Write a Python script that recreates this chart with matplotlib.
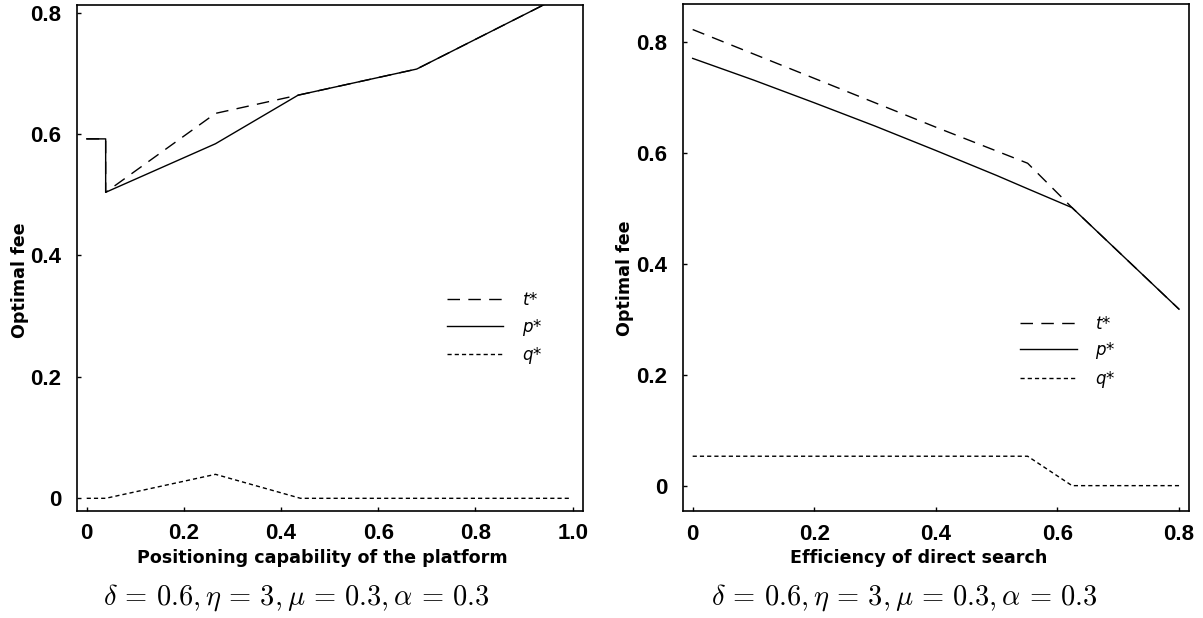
import matplotlib
matplotlib.use("Agg")
import matplotlib.pyplot as plt

# Datos
# Panel izquierdo: capacidad de posicionamiento de la plataforma
pos_x = [0.0, 0.039, 0.039, 0.265, 0.435, 0.679, 0.936, 0.995]
pos_p = [0.592, 0.592, 0.504, 0.584, 0.664, 0.707, 0.811, 0.835]
pos_t = [0.592, 0.592, 0.504, 0.634, 0.664, 0.707, 0.811, 0.835]
pos_q_x = [0.0, 0.039, 0.265, 0.44, 0.995]
pos_q = [0.0, 0.0, 0.0395, 0.0, 0.0]

# Panel derecho: eficiencia de la busqueda directa
ef_x = [0.0, 0.1, 0.2, 0.3, 0.4, 0.5, 0.551, 0.624, 0.8]
ef_p = [0.770, 0.731, 0.690, 0.648, 0.604, 0.559, 0.535, 0.501, 0.318]
ef_t = [0.822, 0.778, 0.734, 0.690, 0.646, 0.603, 0.581, 0.501, 0.318]
ef_q_x = [0.0, 0.551, 0.624, 0.8]
ef_q = [0.053, 0.053, 0.0, 0.0]

caption = r"$\delta \,=\, 0.6, \eta \,=\, 3, \mu \,=\, 0.3, \alpha \,=\, 0.3$"

tick_font = ["Liberation Sans Narrow", "Liberation Sans", "DejaVu Sans"]
label_font = ["DejaVu Sans"]

W, H = 1203, 618
fig = plt.figure(figsize=(W / 100, H / 100), dpi=100)

def caja(x0, y0, x1, y1):
    return [x0 / W, 1 - y1 / H, (x1 - x0) / W, (y1 - y0) / H]

ax1 = fig.add_axes(caja(76.7, 4.7, 582.7, 510.7))
ax2 = fig.add_axes(caja(682.7, 4.0, 1189.0, 511.0))

estilo_t = dict(color="black", lw=1.0, linestyle=(0, (9, 6)))
estilo_p = dict(color="black", lw=1.0, linestyle="-")
estilo_q = dict(color="black", lw=1.0, linestyle=(0, (3, 2.2)))

plt.rcParams["mathtext.fontset"] = "custom"
plt.rcParams["mathtext.it"] = "DejaVu Sans:italic"

def dibujar(ax, x, t, p, qx, q, xlim, ylim, xticks, xticklabels, xlabel,
            xlab_pos, ylab_pos, leg_anchor):
    ax.plot(x, t, label=r"$t$*", **estilo_t)
    ax.plot(x, p, label=r"$p$*", **estilo_p)
    ax.plot(qx, q, label=r"$q$*", **estilo_q)
    ax.set_xlim(*xlim)
    ax.set_ylim(*ylim)
    ax.set_xticks(xticks)
    ax.set_xticklabels(xticklabels)
    ax.set_yticks([0, 0.2, 0.4, 0.6, 0.8])
    ax.set_yticklabels(["0", "0.2", "0.4", "0.6", "0.8"])
    ax.tick_params(direction="in", length=3, width=1, top=False, right=False)
    ax.tick_params(axis="x", pad=9)
    ax.tick_params(axis="y", pad=11)
    for lab in ax.get_xticklabels() + ax.get_yticklabels():
        lab.set_family(tick_font)
        lab.set_fontweight("bold")
        lab.set_fontsize(16)
    for s in ax.spines.values():
        s.set_linewidth(1.2)
    ax.set_xlabel(xlabel, family=label_font, fontweight="bold", fontsize=12.6, va="center")
    ax.xaxis.set_label_coords(*xlab_pos)
    ax.set_ylabel("Optimal fee", family=label_font, fontweight="bold", fontsize=12.6, va="center")
    ax.yaxis.set_label_coords(*ylab_pos)
    ax.legend(loc="upper left", bbox_to_anchor=leg_anchor, frameon=False,
              handlelength=3.4, handletextpad=1.1, labelspacing=0.45,
              borderpad=0, borderaxespad=0,
              prop={"family": "DejaVu Sans", "style": "italic", "size": 12})

dibujar(ax1, pos_x, pos_t, pos_p, pos_q_x, pos_q,
        (-0.0206, 1.0206), (-0.0204, 0.8130),
        [0, 0.2, 0.4, 0.6, 0.8, 1.0], ["0", "0.2", "0.4", "0.6", "0.8", "1.0"],
        "Positioning capability of the platform",
        (0.485, -0.0935), (-0.112, 0.456), (0.731, 0.434))
dibujar(ax2, ef_x, ef_t, ef_p, ef_q_x, ef_q,
        (-0.0164, 0.8164), (-0.0457, 0.868),
        [0, 0.2, 0.4, 0.6, 0.8], ["0", "0.2", "0.4", "0.6", "0.8"],
        "Efficiency of direct search",
        (0.466, -0.0927), (-0.114, 0.46), (0.666, 0.387))

for cx in (296, 904):
    fig.text(cx / W, 1 - 598 / H, caption, ha="center", va="center", fontsize=20.5,
             math_fontfamily="cm")

fig.savefig("out.png", dpi=100)
